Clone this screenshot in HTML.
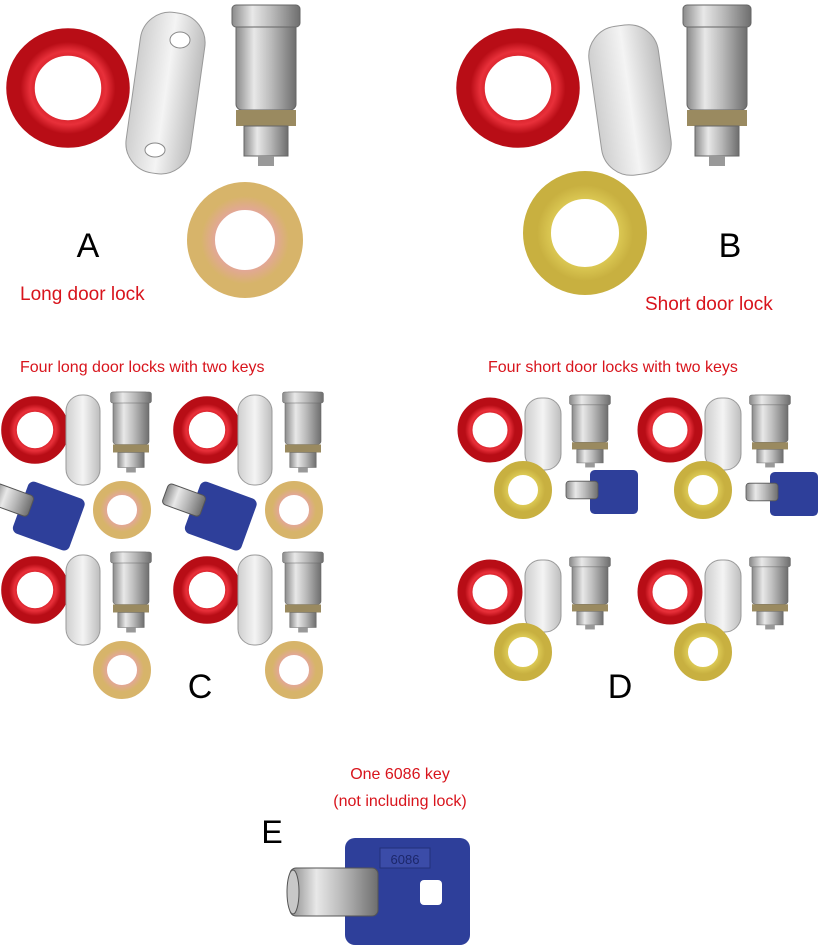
<!DOCTYPE html>
<html><head><meta charset="utf-8"><style>
html,body{margin:0;padding:0;background:#fff;}
svg{display:block;}
.t{font-family:"Liberation Sans",sans-serif;}
</style></head><body>
<svg width="818" height="948" viewBox="0 0 818 948" xmlns="http://www.w3.org/2000/svg">
<defs>
  <radialGradient id="red" cx="50%" cy="50%" r="50%">
    <stop offset="0.5" stop-color="#c8141c"/><stop offset="0.8" stop-color="#e8303a"/><stop offset="1" stop-color="#b80d16"/>
  </radialGradient>
  <linearGradient id="silver" x1="0" x2="1" y1="0" y2="0">
    <stop offset="0" stop-color="#8a8a8a"/><stop offset="0.3" stop-color="#e8e8e8"/><stop offset="0.6" stop-color="#b8b8b8"/><stop offset="1" stop-color="#6e6e6e"/>
  </linearGradient>
  <linearGradient id="plate" x1="0" x2="1">
    <stop offset="0" stop-color="#cfcfcf"/><stop offset="0.5" stop-color="#f4f4f4"/><stop offset="1" stop-color="#bdbdbd"/>
  </linearGradient>
  <radialGradient id="pink" cx="50%" cy="50%" r="50%">
    <stop offset="0.5" stop-color="#e9a0b0"/><stop offset="1" stop-color="#d7b46a"/>
  </radialGradient>
  <radialGradient id="yellow" cx="50%" cy="50%" r="50%">
    <stop offset="0.5" stop-color="#e8d860"/><stop offset="1" stop-color="#c8b040"/>
  </radialGradient>
  <g id="ring"><circle r="50" fill="none" stroke="url(#red)" stroke-width="30"/></g>
  <g id="lock">
    <rect x="-30" y="0" width="60" height="105" rx="6" fill="url(#silver)" stroke="#666"/>
    <rect x="-34" y="0" width="68" height="22" rx="4" fill="url(#silver)" stroke="#666"/>
    <rect x="-30" y="105" width="60" height="16" fill="#9a8a60"/>
    <rect x="-22" y="121" width="44" height="30" fill="url(#silver)" stroke="#666"/>
    <rect x="-8" y="151" width="16" height="10" fill="#999"/>
  </g>
  <g id="key">
    <rect x="0" y="0" width="60" height="55" rx="6" fill="#2e3f9a"/>
    <rect x="-30" y="14" width="40" height="22" rx="4" fill="url(#silver)" stroke="#555"/>
  </g>
</defs>
<rect width="818" height="948" fill="#fff"/>

<!-- A -->
<use href="#ring" transform="translate(68,88) scale(0.95,0.92)"/>
<rect x="133" y="12" width="65" height="162" rx="30" fill="url(#plate)" stroke="#999" transform="rotate(8 165 93)"/>
<ellipse cx="180" cy="40" rx="10" ry="8" fill="#fff" stroke="#888"/>
<ellipse cx="155" cy="150" rx="10" ry="7" fill="#fff" stroke="#888"/>
<use href="#lock" transform="translate(266,5)"/>
<circle cx="245" cy="240" r="44" fill="none" stroke="url(#pink)" stroke-width="28"/>
<text x="88" y="257" class="t" font-size="34" text-anchor="middle">A</text>
<text x="20" y="300" class="t" font-size="19" fill="#d8141c">Long door lock</text>

<!-- B -->
<use href="#ring" transform="translate(518,88) scale(0.95,0.92)"/>
<rect x="595" y="25" width="70" height="150" rx="30" fill="url(#plate)" stroke="#999" transform="rotate(-8 630 100)"/>
<use href="#lock" transform="translate(717,5)"/>
<circle cx="585" cy="233" r="48" fill="none" stroke="url(#yellow)" stroke-width="28"/>
<text x="730" y="257" class="t" font-size="34" text-anchor="middle">B</text>
<text x="645" y="310" class="t" font-size="19" fill="#d8141c">Short door lock</text>

<!-- C -->
<text x="20" y="372" class="t" font-size="16" fill="#d8141c">Four long door locks with two keys</text>
<g id="cs">
  <use href="#ring" transform="translate(35,430) scale(0.52)"/>
  <rect x="66" y="395" width="34" height="90" rx="16" fill="url(#plate)" stroke="#999"/>
  <use href="#lock" transform="translate(131,392) scale(0.6,0.5)"/>
  <circle cx="122" cy="510" r="22" fill="none" stroke="url(#pink)" stroke-width="14"/>
</g>
<use href="#cs" transform="translate(172,0)"/>
<use href="#cs" transform="translate(0,160)"/>
<use href="#cs" transform="translate(172,160)"/>
<use href="#key" transform="translate(30,480) rotate(20)"/>
<use href="#key" transform="translate(202,480) rotate(20)"/>
<text x="200" y="698" class="t" font-size="34" text-anchor="middle">C</text>

<!-- D -->
<text x="488" y="372" class="t" font-size="16" fill="#d8141c">Four short door locks with two keys</text>
<g id="ds">
  <use href="#ring" transform="translate(490,430) scale(0.5)"/>
  <rect x="525" y="398" width="36" height="72" rx="16" fill="url(#plate)" stroke="#999"/>
  <use href="#lock" transform="translate(590,395) scale(0.6,0.45)"/>
  <circle cx="523" cy="490" r="22" fill="none" stroke="url(#yellow)" stroke-width="14"/>
</g>
<use href="#ds" transform="translate(180,0)"/>
<use href="#ds" transform="translate(0,162)"/>
<use href="#ds" transform="translate(180,162)"/>
<use href="#key" transform="translate(590,470) scale(0.8)"/>
<use href="#key" transform="translate(770,472) scale(0.8)"/>
<text x="620" y="698" class="t" font-size="34" text-anchor="middle">D</text>

<!-- E -->
<text x="400" y="779" class="t" font-size="16" fill="#d8141c" text-anchor="middle">One 6086 key</text>
<text x="400" y="806" class="t" font-size="16" fill="#d8141c" text-anchor="middle">(not including lock)</text>
<text x="272" y="843" class="t" font-size="32" text-anchor="middle">E</text>
<rect x="345" y="838" width="125" height="107" rx="10" fill="#2e3f9a"/>
<rect x="380" y="848" width="50" height="20" fill="#3b4ca8" stroke="#23307a"/>
<text x="405" y="864" class="t" font-size="13" fill="#1c276a" text-anchor="middle">6086</text>
<rect x="420" y="880" width="22" height="25" rx="4" fill="#fff"/>
<rect x="290" y="868" width="88" height="48" rx="6" fill="url(#silver)" stroke="#555"/>
<ellipse cx="293" cy="892" rx="6" ry="22" fill="#c8c8c8" stroke="#555"/>
</svg>
</body></html>
